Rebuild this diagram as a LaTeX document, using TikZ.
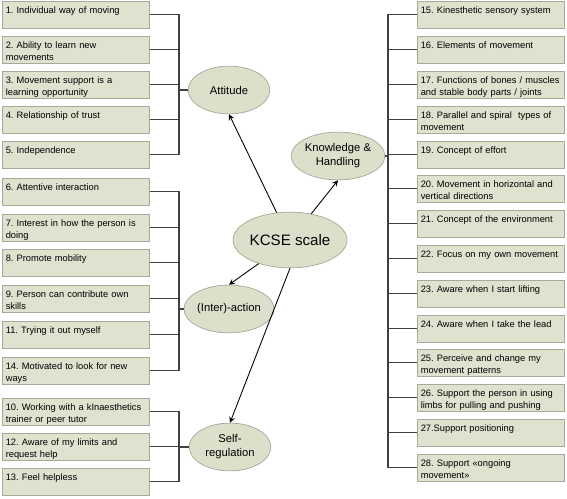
\documentclass[tikz,border=0pt]{standalone}
\usepackage{fontspec}
\setmainfont{Liberation Sans}
\usetikzlibrary{shapes.geometric}
\frenchspacing
\hyphenpenalty=10000
\definecolor{itemfill}{HTML}{DFE2CF}
\definecolor{itemdraw}{HTML}{A7AA98}
\definecolor{ovalfill}{HTML}{DCDFCA}
\definecolor{ovaldraw}{HTML}{A5A79A}
\definecolor{linkgray}{HTML}{404040}

\begin{document}
\begin{tikzpicture}[x=0.02cm,y=-0.02cm,>=stealth,
		item/.style={draw=itemdraw,fill=itemfill,anchor=north west,inner xsep=1.95pt,inner ysep=0pt,
			text width=80pt,align=left,text height=7pt,text depth=8.3pt,
			font=\fontsize{5.3}{6.8}\selectfont},
		oval/.style={ellipse,draw=ovaldraw,fill=ovalfill,minimum width=46.5pt,minimum height=27.2pt,
			inner sep=0pt,align=center,font=\fontsize{6.4}{8}\selectfont},
		link/.style={color=linkgray,line width=0.6pt},
		arr/.style={->,black,line width=0.5pt}]
	\useasboundingbox (0,0) rectangle (567,499);
	\coordinate (lbar) at (179,0);
	\coordinate (rbar) at (388,0);
	% scale and its four parts
	\node[oval,minimum width=53.3pt,minimum height=31.7pt,font=\fontsize{8.6}{10}\selectfont] (kcse) at (290,240) {KCSE scale};
	\node[oval] (att) at (229,90) {Attitude};
	\node[oval,minimum width=45.4pt] (know) at (338,156) {Knowledge \&\\Handling};
	\node[oval] (inter) at (229,309) {(Inter)-action};
	\node[oval] (self) at (230,447) {Self-\\regulation};
	\draw[arr] (kcse.116) -- (att.south);
	\draw[arr] (kcse.51) -- (know.south);
	\draw[arr] (kcse.217) -- (inter.north);
	\draw[arr] (kcse.south) -- (self.north);
	% left items
	\node[item] (i1) at (2,1) {1. Individual way of moving};
	\node[item] (i2) at (2,36) {2. Ability to learn new\\movements};
	\node[item] (i3) at (2,71) {3. Movement support is a\\learning opportunity};
	\node[item] (i4) at (2,106) {4. Relationship of trust};
	\node[item] (i5) at (2,141) {5. Independence};
	\node[item] (i6) at (2,178) {6. Attentive interaction};
	\node[item] (i7) at (2,214) {7. Interest in how the person is\\doing};
	\node[item] (i8) at (2,249) {8. Promote mobility};
	\node[item] (i9) at (2,285) {9. Person can contribute own\\skills};
	\node[item] (i11) at (2,321) {11. Trying it out myself};
	\node[item] (i14) at (2,357) {14. Motivated to look for new\\ways};
	\node[item] (i10) at (2,398) {10. Working with a kInaesthetics\\trainer or peer tutor};
	\node[item] (i12) at (2,433) {12. Aware of my limits and\\request help};
	\node[item] (i13) at (2,468) {13. Feel helpless};
	% right items
	\node[item] (i15) at (417,1) {15. Kinesthetic sensory system};
	\node[item] (i16) at (417,36) {16. Elements of movement};
	\node[item] (i17) at (417,71) {17. Functions of bones / muscles\\and stable body parts / joints};
	\node[item] (i18) at (417,106) {18. Parallel and spiral\ \ types of\\movement};
	\node[item] (i19) at (417,141) {19. Concept of effort};
	\node[item] (i20) at (417,175) {20. Movement in horizontal and\\vertical directions};
	\node[item] (i21) at (417,210) {21. Concept of the environment};
	\node[item] (i22) at (417,245) {22. Focus on my own movement};
	\node[item] (i23) at (417,280) {23. Aware when I start lifting};
	\node[item] (i24) at (417,315) {24. Aware when I take the lead};
	\node[item] (i25) at (417,349) {25. Perceive and change my\\movement patterns};
	\node[item] (i26) at (417,384) {26. Support the person in using\\limbs for pulling and pushing};
	\node[item] (i27) at (417,419) {27.Support positioning};
	\node[item] (i28) at (417,454) {28. Support «ongoing\\movement»};
	% brackets
	\draw[link] (i1.east) -| (att.west -| lbar) |- (i5.east);
	\draw[link] (att.west) -- (att.west -| lbar);
	\draw[link] (i2.east) -- (i2.east -| lbar) (i3.east) -- (i3.east -| lbar) (i4.east) -- (i4.east -| lbar);
	\draw[link] (i6.east) -| (inter.west -| lbar) |- (i14.east);
	\draw[link] (inter.west) -- (inter.west -| lbar);
	\draw[link] (i7.east) -- (i7.east -| lbar) (i8.east) -- (i8.east -| lbar) (i9.east) -- (i9.east -| lbar) (i11.east) -- (i11.east -| lbar);
	\draw[link] (i10.east) -| (self.west -| lbar) |- (i13.east);
	\draw[link] (self.west) -- (self.west -| lbar);
	\draw[link] (i12.east) -- (i12.east -| lbar);
	\draw[link] (i15.west) -| (know.east -| rbar) |- (i28.west);
	\draw[link] (know.east) -- (know.east -| rbar);
	\draw[link] (i16.west) -- (i16.west -| rbar) (i17.west) -- (i17.west -| rbar) (i18.west) -- (i18.west -| rbar) (i19.west) -- (i19.west -| rbar)
		(i20.west) -- (i20.west -| rbar) (i21.west) -- (i21.west -| rbar) (i22.west) -- (i22.west -| rbar) (i23.west) -- (i23.west -| rbar)
		(i24.west) -- (i24.west -| rbar) (i25.west) -- (i25.west -| rbar) (i26.west) -- (i26.west -| rbar) (i27.west) -- (i27.west -| rbar);
\end{tikzpicture}
\end{document}
